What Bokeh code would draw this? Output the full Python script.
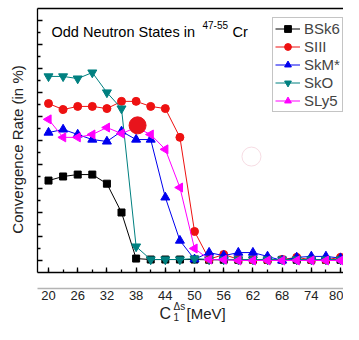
import math
from bokeh.plotting import figure
from bokeh.models import Range1d, LinearAxis, FixedTicker, Label, Legend, LegendItem
from bokeh.embed import file_html
from bokeh.resources import INLINE

# ---------------- data ----------------
c1_mev = [20, 23, 26, 29, 32, 35, 38, 41, 44, 47, 50, 53, 56, 59, 62, 65, 68, 71, 74, 77, 80]
bsk6 = [33.3, 35.0, 35.8, 35.8, 32.0, 20.0, 0.8, 0.4, 0.4, 0.4, 0.4, 0.3, 0.3, 0.3, 0.3, 0.3, 0.3, 0.3, 0.3, 0.3, 0.3]
siii = [65.4, 62.9, 64.2, 64.2, 63.3, 66.3, 66.3, 64.2, 63.3, 51.3, 12.1, 0.5, 2.5, 0.5, 0.3, 0.3, 0.4, 1.3, 0.3, 0.3, 1.3]
skm = [53.3, 54.6, 52.5, 50.4, 49.6, 53.8, 50.4, 50.4, 26.3, 8.3, 0.5, 3.3, 2.0, 3.3, 3.3, 1.7, 0.0, 1.3, 1.7, 1.7, 1.0]
sko = [76.7, 76.7, 75.8, 78.3, 70.0, 63.3, 5.8, 0.4, 0.4, 0.4, 0.8, 0.4, 0.4, 0.4, 0.4, 0.4, 0.4, 0.4, 0.4, 0.4, 0.4]
sly5 = [58.8, 51.3, 51.3, 52.5, 55.4, 52.9, 55.4, 52.5, 46.3, 30.4, 5.0, 0.4, 0.3, 0.0, 0.0, 0.0, 0.0, 0.0, 0.0, 0.0, 0.0]
series_names = ["BSk6", "SIII", "SkM*", "SkO", "SLy5"]
x_tick_labels = [20, 26, 32, 38, 44, 50, 56, 62, 68, 74, 80]
y_major = [0, 10, 20, 30, 40, 50, 60, 70, 80, 90, 100]
y_minor = [5, 15, 25, 35, 45, 55, 65, 75, 85, 95]
# highlighted point (big red dot) and faint circle
mark_x = [38.3]
mark_y = [56.3]
faint_x = [61.7]
faint_y = [43.3]

FONT = "Liberation Sans"

# axis-box geometry (data units)
X0, X1 = 10.137, 80.61       # whole canvas width
Y0, Y1 = -26.67, 108.33      # whole canvas height
BOX_L, BOX_B, BOX_T = 17.74, -5.0, 105.0
GRAY_Y = -11.67

p = figure(width=343, height=324, output_backend="svg", toolbar_location=None,
           x_range=Range1d(X0, X1), y_range=Range1d(Y0, Y1),
           x_axis_type=None, y_axis_type=None,
           min_border_left=0, min_border_right=0, min_border_top=0, min_border_bottom=0)
p.outline_line_color = None
p.background_fill_color = "white"

def hidden_labels(ax):
    ax.major_label_text_color = None
    ax.major_label_standoff = 0

# bottom axis with inward ticks
ax_in = LinearAxis(ticker=FixedTicker(ticks=x_tick_labels, minor_ticks=c1_mev),
                   fixed_location=BOX_B, bounds=(BOX_L, X1),
                   axis_line_color="black", axis_line_width=1.3,
                   major_tick_in=5, major_tick_out=0, minor_tick_in=3, minor_tick_out=0,
                   major_tick_line_width=1.3, minor_tick_line_width=1.3)
hidden_labels(ax_in)
p.add_layout(ax_in, "below")
# label axis with gray line
ax_lab = LinearAxis(ticker=FixedTicker(ticks=x_tick_labels),
                    fixed_location=GRAY_Y, bounds=(BOX_L, X1),
                    axis_line_color="#b4b4b4", axis_line_width=1.5,
                    major_tick_in=0, major_tick_out=0, minor_tick_in=0, minor_tick_out=0,
                    major_label_text_font_size="13px", major_label_text_font=FONT,
                    major_label_text_color="#222222", major_label_standoff=2)
p.add_layout(ax_lab, "below")
# left axis
ay = LinearAxis(ticker=FixedTicker(ticks=y_major, minor_ticks=y_minor),
                fixed_location=BOX_L, bounds=(BOX_B, BOX_T),
                axis_line_color="black", axis_line_width=1.3,
                major_tick_in=5, major_tick_out=0, minor_tick_in=3, minor_tick_out=0,
                major_tick_line_width=1.3, minor_tick_line_width=1.3)
hidden_labels(ay)
p.add_layout(ay, "left")
# top line
at = LinearAxis(ticker=FixedTicker(ticks=[]), fixed_location=BOX_T, bounds=(BOX_L, X1),
                axis_line_color="black", axis_line_width=1.3,
                major_tick_in=0, major_tick_out=0, minor_tick_in=0, minor_tick_out=0)
hidden_labels(at)
p.add_layout(at, "above")

styles = [
    (bsk6, "black", "square", 7, 0.0),
    (siii, "#ee1111", "circle", 8, 0.0),
    (skm, "#0000ee", "triangle", 9, 0.0),
    (sko, "#008080", "inverted_triangle", 9, 0.0),
    (sly5, "#ff00ff", "triangle", 9, math.pi / 2),
]
items = []
for (ys, col, mk, sz, ang), name in zip(styles, series_names):
    ln = p.line(c1_mev, ys, line_color=col, line_width=1)
    sc = p.scatter(c1_mev, ys, marker=mk, size=sz, fill_color=col, line_color=col, angle=ang)
    items.append(LegendItem(label=name, renderers=[ln, sc]))

p.scatter(faint_x, faint_y, marker="circle", size=19, fill_color=None, line_color="#f7dde4", line_width=1)
p.scatter(mark_x, mark_y, marker="circle", size=17, fill_color="#e8141c", line_color="#e8141c")

legend = Legend(items=items, location=(272, 212), orientation="vertical",
                glyph_width=25, glyph_height=17, label_height=17, spacing=1, padding=2,
                label_standoff=4, label_text_font_size="15px", label_text_font=FONT,
                border_line_color="#8a8a8a", border_line_width=1,
                background_fill_color="white", background_fill_alpha=1, margin=0)
p.add_layout(legend, "center")

# title text
p.add_layout(Label(x=20.61, y=95, text="Odd Neutron States in", text_font=FONT,
                   text_font_size="14.5px", text_color="black", text_baseline="alphabetic"))
p.add_layout(Label(x=51.64, y=98.33, text="47-55", text_font=FONT,
                   text_font_size="10px", text_color="black", text_baseline="alphabetic"))
p.add_layout(Label(x=57.8, y=95, text="Cr", text_font=FONT,
                   text_font_size="14.5px", text_color="black", text_baseline="alphabetic"))

# y axis label
p.add_layout(Label(x=13.63, y=46.25, text="Convergence Rate (in %)", angle=math.pi / 2,
                   text_align="center", text_baseline="middle", text_font=FONT,
                   text_font_size="15px", text_color="#222222"))

# x axis label
p.add_layout(Label(x=42.80, y=-22.08, text="C", text_font=FONT, text_font_size="16px",
                   text_color="#222222", text_baseline="alphabetic"))
p.add_layout(Label(x=45.68, y=-19.17, text="Δs", text_font=FONT, text_font_size="10px",
                   text_color="#222222", text_baseline="alphabetic"))
p.add_layout(Label(x=45.68, y=-23.75, text="1", text_font=FONT, text_font_size="10px",
                   text_color="#222222", text_baseline="alphabetic"))
p.add_layout(Label(x=48.35, y=-22.08, text="[MeV]", text_font=FONT, text_font_size="15px",
                   text_color="#222222", text_baseline="alphabetic"))

open("out.html", "w").write(file_html(p, INLINE))
